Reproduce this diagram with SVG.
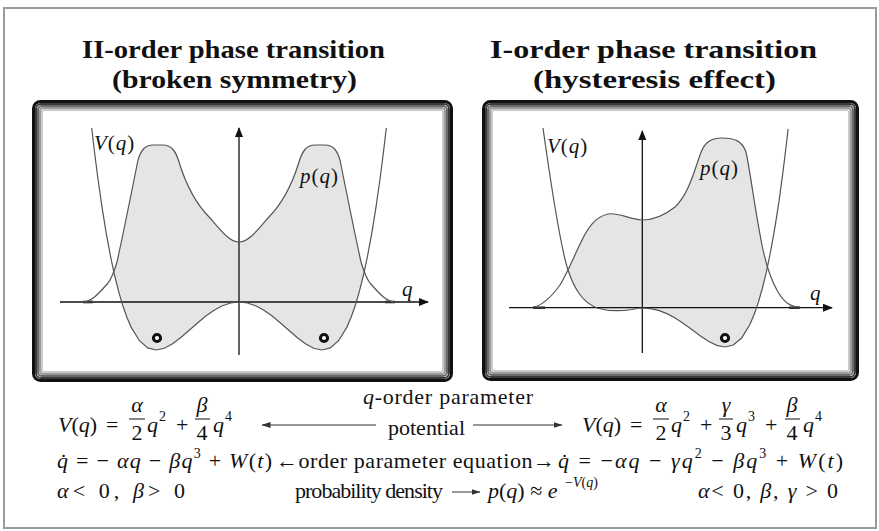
<svg xmlns="http://www.w3.org/2000/svg" width="879" height="531" viewBox="0 0 879 531">
<defs>
<style>
.t{font-size:26px;font-weight:bold;fill:#111}
.m{font-size:22px;fill:#111}
.l{font-size:21px;fill:#111}
.i{font-style:italic}
.s{font-size:14px}
.fr{fill:none}
.ax{stroke:#111;stroke-width:1.3;fill:none}
.cv{stroke:#555;stroke-width:1.2;fill:none}
.fl{fill:#e5e5e5;stroke:none}
.tail{stroke:#333;stroke-width:2.6}
.ring{fill:#fff;stroke:#111;stroke-width:3}
.bar{stroke:#111;stroke-width:1}
.ar{stroke:#333;stroke-width:1;fill:none}
</style>
<marker id="axh" viewBox="0 0 10 8" refX="9" refY="4" markerWidth="10" markerHeight="8" markerUnits="userSpaceOnUse" orient="auto">
<path d="M0,0 L10,4 L0,8 Z" fill="#111"/>
</marker>
<marker id="arh" viewBox="0 0 9 6" refX="8.5" refY="3" markerWidth="9" markerHeight="6" markerUnits="userSpaceOnUse" orient="auto">
<path d="M0,0 L9,3 L0,6 Z" fill="#333"/>
</marker>
<clipPath id="cL">
<polygon points="91.7,128 94.6,152.7 97.9,178.5 102.1,207.6 106.2,233.2 110.4,255.6 114.5,275 118.7,291.7 122.8,305.8 127,317.5 131.1,327.1 139.4,340.7 147.7,347.9 156,350 164.3,348.3 172.6,343.8 180.9,337.5 189.2,330.3 197.5,323 205.8,316.1 214.1,310.3 222.4,305.8 230.7,303 239,302 247.3,303 255.6,305.8 263.9,310.3 272.2,316.1 280.5,323 288.8,330.3 297.1,337.5 305.4,343.8 313.7,348.3 322,350 330.3,347.9 338.6,340.7 346.9,327.1 351,317.5 355.2,305.8 359.3,291.7 363.5,275 367.6,255.6 371.8,233.2 375.9,207.6 380.1,178.5 383.4,152.7 386.3,128"/>
</clipPath>
<clipPath id="cR">
<path d="M543,128 C551,185 560,245 568,270 C574,288 582,302 597,308 C607,311 622,311 632,309.5 C637,308.5 640,308 642,308 L650.3,308.6 658.6,310.4 666.9,313.6 675.2,318 683.5,323.4 691.8,329.5 700.1,335.7 708.4,341.3 716.7,345.4 725,347 733.3,345 741.6,338 749.9,324.5 754,314.8 758.2,302.9 762.3,288.5 766.5,271.4 770.6,251.4 774.8,228.1 779,201.4 783.1,170.9 785.6,150.6 788.1,129 Z"/>
</clipPath>
</defs>
<rect x="0" y="0" width="879" height="531" fill="#fff"/>
<rect x="4" y="8" width="872" height="520" fill="none" stroke="#9a9a9a" stroke-width="2"/>

<g font-family="Liberation Serif, Times New Roman, serif">
<g id="title-left">
<text class="t" x="82" y="58" textLength="303" lengthAdjust="spacingAndGlyphs">II-order phase transition</text>
<text class="t" x="112" y="88" textLength="245" lengthAdjust="spacingAndGlyphs">(broken symmetry)</text>
</g>
<g id="title-right">
<text class="t" x="490" y="58" textLength="327" lengthAdjust="spacingAndGlyphs">I-order phase transition</text>
<text class="t" x="533" y="88" textLength="243" lengthAdjust="spacingAndGlyphs">(hysteresis effect)</text>
</g>

<g id="panel-left">
<rect x="32" y="100" width="421" height="282" rx="8" fill="#fff"/>
<g class="fr">
<rect x="33.5" y="101.5" width="418" height="279" rx="7" stroke="#111" stroke-width="3"/>
<rect x="36" y="104" width="413" height="274" rx="5" stroke="#3a3a3a" stroke-width="2"/>
<rect x="38" y="106" width="409" height="270" rx="4" stroke="#6a6a6a" stroke-width="2"/>
<rect x="40" y="108" width="405" height="266" rx="3" stroke="#9a9a9a" stroke-width="2"/>
<rect x="42" y="110" width="401" height="262" rx="2" stroke="#cacaca" stroke-width="2"/>
</g>
<path class="fl" clip-path="url(#cL)" d="M83,302 C92,302 100,292 108,283 C112,278 114,272 117,262 C124,230 132,190 138,160 C141,150 145,145 153,145 L163,145 C172,145 176,152 179,162 C186,185 196,204 210,218 C222,232 230,242 239,242 C248,242 256,232 268,218 C282,204 292,185 299,162 C302,152 306,145 315,145 L325,145 C333,145 337,150 340,160 C346,190 354,230 361,262 C364,272 366,278 370,283 C378,292 386,302 395,302 L395,400 L83,400 Z"/>
<line class="ax" x1="60" y1="302" x2="428" y2="302" marker-end="url(#axh)"/>
<line class="ax" x1="239" y1="355" x2="239" y2="128" marker-end="url(#axh)"/>
<line class="tail" x1="83" y1="302" x2="93" y2="302"/>
<line class="tail" x1="385" y1="302" x2="395" y2="302"/>
<polyline class="cv" points="91.7,128 94.6,152.7 97.9,178.5 102.1,207.6 106.2,233.2 110.4,255.6 114.5,275 118.7,291.7 122.8,305.8 127,317.5 131.1,327.1 139.4,340.7 147.7,347.9 156,350 164.3,348.3 172.6,343.8 180.9,337.5 189.2,330.3 197.5,323 205.8,316.1 214.1,310.3 222.4,305.8 230.7,303 239,302 247.3,303 255.6,305.8 263.9,310.3 272.2,316.1 280.5,323 288.8,330.3 297.1,337.5 305.4,343.8 313.7,348.3 322,350 330.3,347.9 338.6,340.7 346.9,327.1 351,317.5 355.2,305.8 359.3,291.7 363.5,275 367.6,255.6 371.8,233.2 375.9,207.6 380.1,178.5 383.4,152.7 386.3,128"/>
<path class="cv" d="M83,302 C92,302 100,292 108,283 C112,278 114,272 117,262 C124,230 132,190 138,160 C141,150 145,145 153,145 L163,145 C172,145 176,152 179,162 C186,185 196,204 210,218 C222,232 230,242 239,242 C248,242 256,232 268,218 C282,204 292,185 299,162 C302,152 306,145 315,145 L325,145 C333,145 337,150 340,160 C346,190 354,230 361,262 C364,272 366,278 370,283 C378,292 386,302 395,302"/>
<circle class="ring" cx="157" cy="338" r="3.6"/>
<circle class="ring" cx="324" cy="338" r="3.6"/>
<text class="l" x="94" y="150" letter-spacing="1"><tspan class="i">V</tspan>(<tspan class="i">q</tspan>)</text>
<text class="l" x="300" y="183" letter-spacing="1"><tspan class="i">p</tspan>(<tspan class="i">q</tspan>)</text>
<text class="l i" x="402" y="296">q</text>
</g>

<g id="panel-right">
<rect x="482" y="100" width="377" height="281" rx="8" fill="#fff"/>
<g class="fr">
<rect x="483.5" y="101.5" width="374" height="278" rx="7" stroke="#111" stroke-width="3"/>
<rect x="486" y="104" width="369" height="273" rx="5" stroke="#3a3a3a" stroke-width="2"/>
<rect x="488" y="106" width="365" height="269" rx="4" stroke="#6a6a6a" stroke-width="2"/>
<rect x="490" y="108" width="361" height="265" rx="3" stroke="#9a9a9a" stroke-width="2"/>
<rect x="492" y="110" width="357" height="261" rx="2" stroke="#cacaca" stroke-width="2"/>
</g>
<path class="fl" clip-path="url(#cR)" d="M533,307 C542,306 552,296 560,285 C568,272 574,256 582,240 C588,228 595,217 608,214 C618,212 628,219 642,220 C655,220 665,215 675,207 C688,195 694,172 700,155 C704,143 710,138 722,138 C735,138 742,141 746,152 C750,170 755,210 762,245 C766,265 772,282 778,292 C784,302 790,307 800,307 L800,400 L533,400 Z"/>
<line class="ax" x1="509" y1="307.7" x2="832" y2="307.7" marker-end="url(#axh)"/>
<line class="ax" x1="642.3" y1="353" x2="642.3" y2="131" marker-end="url(#axh)"/>
<line class="tail" x1="533" y1="307.7" x2="545" y2="307.7"/>
<line class="tail" x1="789" y1="307.7" x2="800" y2="307.7"/>
<path class="cv" d="M543,128 C551,185 560,245 568,270 C574,288 582,302 597,308 C607,311 622,311 632,309.5 C637,308.5 640,308 642,308 L650.3,308.6 658.6,310.4 666.9,313.6 675.2,318 683.5,323.4 691.8,329.5 700.1,335.7 708.4,341.3 716.7,345.4 725,347 733.3,345 741.6,338 749.9,324.5 754,314.8 758.2,302.9 762.3,288.5 766.5,271.4 770.6,251.4 774.8,228.1 779,201.4 783.1,170.9 785.6,150.6 788.1,129"/>
<path class="cv" d="M533,307 C542,306 552,296 560,285 C568,272 574,256 582,240 C588,228 595,217 608,214 C618,212 628,219 642,220 C655,220 665,215 675,207 C688,195 694,172 700,155 C704,143 710,138 722,138 C735,138 742,141 746,152 C750,170 755,210 762,245 C766,265 772,282 778,292 C784,302 790,307 800,307"/>
<circle class="ring" cx="725" cy="338" r="3.6"/>
<text class="l" x="547" y="153" letter-spacing="1"><tspan class="i">V</tspan>(<tspan class="i">q</tspan>)</text>
<text class="l" x="700" y="175" letter-spacing="1"><tspan class="i">p</tspan>(<tspan class="i">q</tspan>)</text>
<text class="l i" x="810" y="300">q</text>
</g>

<g id="formula-left">
<text class="m" x="58" y="432"><tspan class="i">V</tspan>(<tspan class="i">q</tspan>)</text>
<text class="m" x="106" y="432">=</text>
<text class="m i" x="137" y="412" text-anchor="middle">α</text>
<line class="bar" x1="129" y1="419" x2="145" y2="419"/>
<text class="m" x="137" y="440" text-anchor="middle">2</text>
<text class="m i" x="147" y="432">q</text><text class="m s" x="159" y="421">2</text>
<text class="m" x="176" y="432">+</text>
<text class="m i" x="202" y="412" text-anchor="middle">β</text>
<line class="bar" x1="195" y1="419" x2="210" y2="419"/>
<text class="m" x="202" y="440" text-anchor="middle">4</text>
<text class="m i" x="213" y="432">q</text><text class="m s" x="225" y="421">4</text>
<text class="m" x="57" y="468" textLength="215"><tspan class="i">q̇</tspan> = − <tspan class="i">αq</tspan> − <tspan class="i">βq</tspan><tspan class="s" dy="-10">3</tspan><tspan dy="10"> + </tspan><tspan class="i">W</tspan>(<tspan class="i">t</tspan>)</text>
<text class="m" x="57" y="498" textLength="128"><tspan class="i">α</tspan>&lt; 0,  <tspan class="i">β</tspan>&gt; 0</text>
</g>

<g id="formula-right">
<text class="m" x="582" y="432"><tspan class="i">V</tspan>(<tspan class="i">q</tspan>)</text>
<text class="m" x="630" y="432">=</text>
<text class="m i" x="661" y="412" text-anchor="middle">α</text>
<line class="bar" x1="653" y1="419" x2="669" y2="419"/>
<text class="m" x="661" y="440" text-anchor="middle">2</text>
<text class="m i" x="671" y="432">q</text><text class="m s" x="683" y="421">2</text>
<text class="m" x="700" y="432">+</text>
<text class="m i" x="726" y="412" text-anchor="middle">γ</text>
<line class="bar" x1="719" y1="419" x2="733" y2="419"/>
<text class="m" x="726" y="440" text-anchor="middle">3</text>
<text class="m i" x="736" y="432">q</text><text class="m s" x="748" y="421">3</text>
<text class="m" x="765" y="432">+</text>
<text class="m i" x="792" y="412" text-anchor="middle">β</text>
<line class="bar" x1="785" y1="419" x2="800" y2="419"/>
<text class="m" x="792" y="440" text-anchor="middle">4</text>
<text class="m i" x="803" y="432">q</text><text class="m s" x="815" y="421">4</text>
<text class="m" x="558" y="468" textLength="285"><tspan class="i">q̇</tspan> = −<tspan class="i">αq</tspan> − <tspan class="i">γq</tspan><tspan class="s" dy="-10">2</tspan><tspan dy="10"> − </tspan><tspan class="i">βq</tspan><tspan class="s" dy="-10">3</tspan><tspan dy="10"> + </tspan><tspan class="i">W</tspan>(<tspan class="i">t</tspan>)</text>
<text class="m" x="698" y="498" textLength="140"><tspan class="i">α</tspan>&lt; 0,  <tspan class="i">β</tspan>, <tspan class="i">γ</tspan> &gt; 0</text>
</g>

<g id="labels-center">
<text class="m" x="363" y="404" textLength="170"><tspan class="i">q</tspan>-order parameter</text>
<text class="m" x="388" y="435" textLength="77">potential</text>
<text class="m" x="276" y="468" textLength="279">←order parameter equation→</text>
<text class="m" x="295" y="498" textLength="148">probability density</text>
<text class="m" x="488" y="498"><tspan class="i">p</tspan>(<tspan class="i">q</tspan>) ≈ <tspan class="i">e</tspan></text>
<text class="m s" x="565" y="487">−<tspan class="i">V</tspan>(<tspan class="i">q</tspan>)</text>
</g>
</g>

<g id="connectors">
<line class="ar" x1="376" y1="425" x2="262" y2="425" marker-end="url(#arh)"/>
<line class="ar" x1="473" y1="425" x2="562" y2="425" marker-end="url(#arh)"/>
<line class="ar" x1="452" y1="492" x2="480" y2="492" marker-end="url(#arh)"/>
</g>
</svg>
